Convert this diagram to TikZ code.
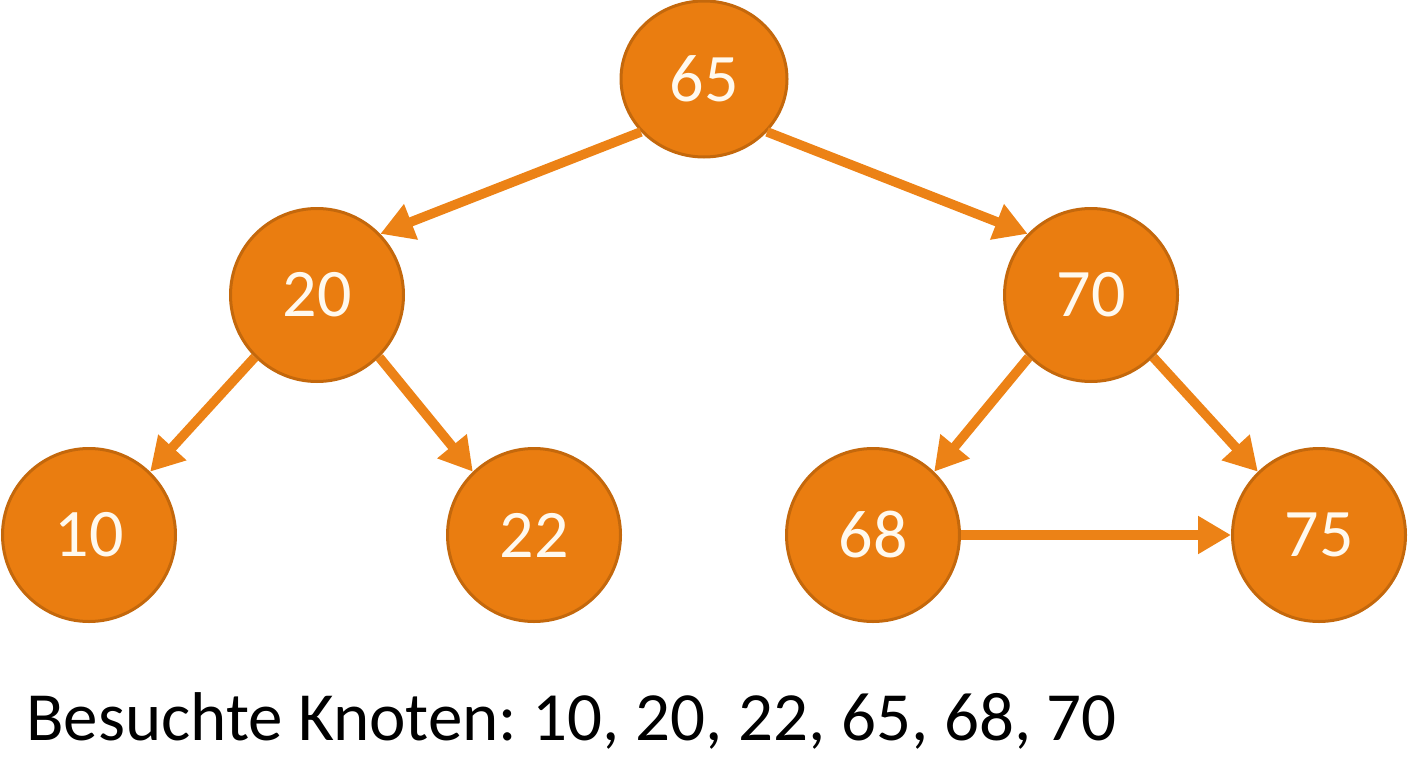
\documentclass[tikz,border=0pt]{standalone}
\usepackage{fontspec}
\setmainfont{Carlito}
\usetikzlibrary{arrows.meta,shapes.geometric}
\definecolor{nodefill}{HTML}{EA7D10}
\definecolor{nodeborder}{HTML}{C4680C}
\definecolor{arrowcol}{HTML}{EC8216}
\definecolor{nodetext}{HTML}{FFF9EE}
\tikzset{
  treenode/.style={circle,fill=nodefill,draw=nodeborder,line width=3pt,
    minimum size=173pt,inner sep=0pt,text=nodetext,
    font=\fontsize{68}{80}\selectfont},
  edgearrow/.style={draw=arrowcol,line width=9.5pt,
    -{Triangle[length=33pt,width=36pt,fill=arrowcol]}}
}
\frenchspacing
\begin{document}
\begin{tikzpicture}[x=1pt,y=-1pt]
\useasboundingbox (0,0) rectangle (1408,768);
\node[treenode,ellipse,minimum width=166pt,minimum height=156pt] (n65) at (704,79) {65};
\node[treenode] (n20) at (317,295) {20};
\node[treenode] (n70) at (1091,295) {70};
\node[treenode] (n10) at (89,535) {10};
\node[treenode] (n22) at (534,535) {22};
\node[treenode] (n68) at (873,535) {68};
\node[treenode] (n75) at (1319,535) {75};
\draw[edgearrow] (n65.220) -- (n20.44);
\draw[edgearrow] (n65.320) -- (n70.136);
\draw[edgearrow] (n20.225) -- (n10.46);
\draw[edgearrow] (n20.315) -- (n22.134);
\draw[edgearrow] (n70.225) -- (n68.46);
\draw[edgearrow] (n70.315) -- (n75.134);
\draw[edgearrow] (n68.east) -- (n75.west);
\node[anchor=base west,inner sep=0pt,font=\fontsize{69}{80}\selectfont] (caption) at (26,740) {Besuchte Knoten: 10, 20, 22, 65, 68, 70};
\end{tikzpicture}
\end{document}
